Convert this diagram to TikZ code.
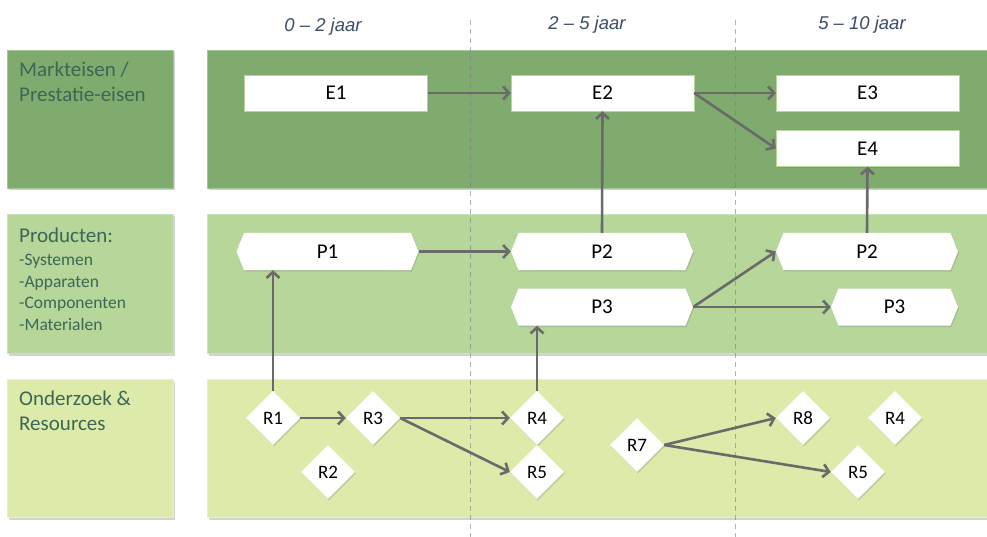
\documentclass[tikz,border=0pt]{standalone}
\usepackage{fontspec}
\setmainfont{Carlito}
\newfontfamily\kopfont{Liberation Sans}
\usetikzlibrary{shapes.geometric,shapes.symbols,arrows.meta,shadows,positioning}
\definecolor{marktgroen}{HTML}{7FAB6E}
\definecolor{productgroen}{HTML}{B6D69A}
\definecolor{onderzoekgroen}{HTML}{DCEBAA}
\definecolor{labeltekst}{HTML}{3C6656}
\definecolor{kopblauw}{HTML}{3D4C68}
\definecolor{pijlgrijs}{HTML}{6A6A6A}
\tikzset{
    laag/.style={
        fill=#1,
        draw=#1!70!white,
        line width=0.8pt,
        drop shadow={shadow xshift=1.5pt, shadow yshift=-2.5pt, opacity=0.35}
    },
    rijlabel/.style={
        anchor=north west,
        align=left,
        inner sep=0pt,
        text=labeltekst,
        font=\fontsize{21}{25}\selectfont
    },
    kop/.style={
        text=kopblauw,
        font=\kopfont\itshape\fontsize{18.5}{22}\selectfont
    },
    eis/.style={
        draw=productgroen,
        fill=white,
        minimum width=183pt,
        minimum height=36pt,
        font=\fontsize{21}{24}\selectfont,
        drop shadow={shadow xshift=1pt, shadow yshift=-1.5pt, opacity=0.3}
    },
    product/.style={
        signal,
        signal to=west and east,
        signal pointer angle=136,
        fill=white,
        minimum width=182pt,
        minimum height=37pt,
        font=\fontsize{21}{24}\selectfont,
        drop shadow={shadow xshift=1pt, shadow yshift=-1.5pt, opacity=0.3}
    },
    bron/.style={
        diamond,
        fill=white,
        inner sep=0pt,
        minimum width=54pt,
        minimum height=54pt,
        font=\fontsize{19}{22}\selectfont,
        drop shadow={shadow xshift=1pt, shadow yshift=-1.5pt, opacity=0.3}
    },
    pijl/.style={
        draw=pijlgrijs,
        line width=2.6pt,
        -{Straight Barb[length=6pt,width=13pt]}
    },
    scheiding/.style={
        draw=gray,
        opacity=0.6,
        line width=1pt,
        dash pattern=on 5pt off 4pt
    }
}

\begin{document}
\begin{tikzpicture}[x=1pt,y=-1pt]
  \useasboundingbox[fill=white] (0,0) rectangle (987,537);

  % lagen
  \path[laag=marktgroen] (7,50) rectangle (173,188);
  \path[laag=marktgroen] (207,50) rectangle (992,188);
  \path[laag=productgroen] (7,214) rectangle (173,353);
  \path[laag=productgroen] (207,214) rectangle (992,353);
  \path[laag=onderzoekgroen] (7,379) rectangle (173,517);
  \path[laag=onderzoekgroen] (207,379) rectangle (992,517);

  \node[rijlabel] (lmarkt) at (19,62) {Markteisen /\\Prestatie-eisen};
  \node[rijlabel] (lproduct) at (19,228) {Producten:};
  \node[rijlabel, font=\fontsize{17.5}{21.5}\selectfont,
        below=11pt of lproduct.south west, anchor=north west]
    (lsoorten) {-Systemen\\-Apparaten\\-Componenten\\-Materialen};
  \node[rijlabel] (londerzoek) at (19,391) {Onderzoek \&\\Resources};

  \node[kop] (k1) at (323,27) {0 – 2 jaar};
  \node[kop] (k2) at (587,25) {2 – 5 jaar};
  \node[kop] (k3) at (862,25) {5 – 10 jaar};

  \coordinate (s1a) at (470,20);
  \coordinate (s1b) at (470,537);
  \coordinate (s2a) at (735,20);
  \coordinate (s2b) at (735,537);
  \draw[scheiding] (s1a) -- (s1b);
  \draw[scheiding] (s2a) -- (s2b);

  % eisen
  \node[eis] (E1) at (336,93) {E1};
  \node[eis] (E2) at (602.5,93) {E2};
  \node[eis] (E3) at (867.5,93) {E3};
  \node[eis] (E4) at (867.5,148.5) {E4};

  % producten
  \node[product] (P1) at (327.5,251.5) {P1};
  \node[product] (P2a) at (602,251.5) {P2};
  \node[product] (P3a) at (602,307) {P3};
  \node[product] (P2b) at (867,251.5) {P2};
  \node[product, minimum width=127pt] (P3b) at (894.5,307) {P3};

  % onderzoek
  \node[bron] (R1) at (273,418) {R1};
  \node[bron] (R3) at (373,418) {R3};
  \node[bron] (R2) at (328,472) {R2};
  \node[bron] (R4a) at (537,418) {R4};
  \node[bron] (R5a) at (537,472) {R5};
  \node[bron] (R7) at (637,445) {R7};
  \node[bron] (R8) at (803,418) {R8};
  \node[bron] (R4b) at (895,418) {R4};
  \node[bron] (R5b) at (858,472) {R5};

  \draw[pijl] (E1.east) -- (E2.west);
  \draw[pijl] (E2.east) -- (E3.west);
  \draw[pijl] (E2.east) -- (E4.west);
  \draw[pijl] (P2a.north) -- (E2.south);
  \draw[pijl] (P2b.north) -- (E4.south);
  \draw[pijl] (P1.east) -- (P2a.west);
  \draw[pijl] (P3a.east) -- (P2b.west);
  \draw[pijl] (P3a.east) -- (P3b.west);
  \draw[pijl] (R1.north) -- (R1.north |- P1.south);
  \draw[pijl] (R4a.north) -- (R4a.north |- P3a.south);
  \draw[pijl] (R1.east) -- (R3.west);
  \draw[pijl] (R3.east) -- (R4a.west);
  \draw[pijl] (R3.east) -- (R5a.west);
  \draw[pijl] (R7.east) -- (R8.west);
  \draw[pijl] (R7.east) -- (R5b.west);
\end{tikzpicture}
\end{document}
